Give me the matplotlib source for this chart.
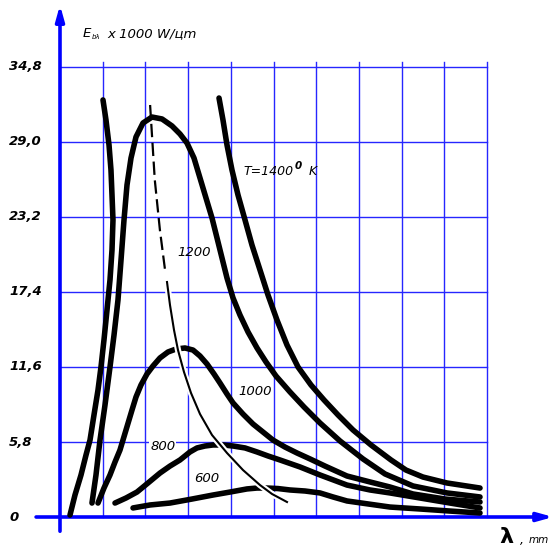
import matplotlib
matplotlib.use('Agg')
import matplotlib.pyplot as plt
import matplotlib.patheffects as pe

plt.rcParams['font.family'] = ['DejaVu Sans']

# ---------------- data ----------------
y_ticks = [0, 5.8, 11.6, 17.4, 23.2, 29.0, 34.8]
y_tick_labels = ['0', '5,8', '11,6', '17,4', '23,2', '29,0', '34,8']
x_grid = [1, 2, 3, 4, 5, 6, 7, 8, 9, 10]

t1400_left_x = [0.234, 0.351, 0.492, 0.609, 0.703, 0.796, 0.890, 0.960, 1.030, 1.101,
                1.171, 1.218, 1.241, 1.218, 1.194, 1.148, 1.077, 1.007]
t1400_left_y = [0.15, 1.70, 3.25, 4.79, 5.95, 7.89, 9.82, 11.60, 13.69, 16.01,
                18.33, 20.65, 22.97, 24.90, 26.83, 28.77, 30.70, 32.25]

t1400_right_x = [3.724, 3.817, 3.911, 4.028, 4.169, 4.333, 4.496, 4.684, 4.871, 5.082,
                 5.316, 5.574, 5.878, 6.183, 6.511, 6.862, 7.283, 7.752, 8.103, 8.501,
                 9.063, 9.836]
t1400_right_y = [32.40, 30.70, 28.77, 26.83, 24.90, 22.97, 21.03, 19.10, 17.17, 15.23,
                 13.30, 11.60, 10.21, 9.05, 7.89, 6.73, 5.57, 4.41, 3.63, 3.09,
                 2.63, 2.24]

t1200_x = [0.749, 0.843, 0.937, 1.054, 1.171, 1.265, 1.358, 1.429, 1.499, 1.569,
           1.663, 1.780, 1.944, 2.155, 2.389, 2.623, 2.810, 2.974, 3.138, 3.279,
           3.419, 3.560, 3.677, 3.794, 3.911, 4.052, 4.215, 4.403, 4.614, 4.824,
           5.059, 5.386, 5.714, 6.089, 6.557, 7.096, 7.611, 8.267, 9.063, 9.836]
t1200_y = [1.08, 3.25, 5.95, 8.66, 11.60, 14.07, 16.78, 19.87, 22.97, 25.67,
           27.76, 29.39, 30.47, 30.93, 30.78, 30.24, 29.62, 28.92, 27.76, 26.21,
           24.67, 23.12, 21.58, 20.03, 18.48, 16.94, 15.62, 14.31, 13.07, 11.99,
           10.90, 9.67, 8.51, 7.27, 5.88, 4.49, 3.33, 2.40, 1.86, 1.55]

t1000_x = [0.890, 1.030, 1.171, 1.288, 1.405, 1.546, 1.686, 1.780, 1.897, 2.037,
           2.178, 2.342, 2.529, 2.717, 2.927, 3.115, 3.279, 3.443, 3.607, 3.747,
           3.911, 4.052, 4.286, 4.520, 4.754, 4.988, 5.269, 5.550, 5.855, 6.206,
           6.721, 7.260, 7.728, 8.267, 9.016, 9.836]
t1000_y = [1.08, 2.24, 3.25, 4.25, 5.18, 6.73, 8.27, 9.28, 10.21, 11.06,
           11.68, 12.30, 12.76, 12.99, 13.07, 12.91, 12.45, 11.83, 11.06, 10.36,
           9.51, 8.82, 7.96, 7.19, 6.57, 5.95, 5.41, 4.95, 4.49, 3.94,
           3.17, 2.71, 2.32, 1.78, 1.39, 1.16]

t800_x = [1.288, 1.546, 1.803, 2.061, 2.342, 2.576, 2.810, 3.044, 3.208, 3.396,
          3.583, 3.817, 4.052, 4.333, 4.614, 4.871, 5.152, 5.621, 6.089, 6.721,
          7.260, 7.728, 8.431, 9.133, 9.836]
t800_y = [1.08, 1.47, 1.93, 2.63, 3.40, 3.94, 4.41, 5.03, 5.34, 5.49,
          5.57, 5.57, 5.49, 5.34, 5.03, 4.72, 4.41, 3.87, 3.25, 2.47,
          2.09, 1.86, 1.47, 1.08, 0.70]

t600_x = [1.710, 2.108, 2.576, 3.091, 3.583, 3.981, 4.379, 4.614, 4.848, 5.105,
          5.386, 5.738, 6.089, 6.393, 6.721, 7.213, 7.728, 8.431, 9.133, 9.836]
t600_y = [0.70, 0.93, 1.08, 1.39, 1.70, 1.93, 2.17, 2.24, 2.24, 2.20,
          2.09, 2.01, 1.86, 1.55, 1.24, 1.01, 0.77, 0.62, 0.46, 0.31]

locus_dash_x = [2.11, 2.22, 2.34, 2.46]
locus_dash_y = [31.86, 26.06, 22.19, 19.10]
locus_solid_x = [2.506, 2.576, 2.670, 2.763, 2.904, 3.068, 3.279, 3.560, 3.911, 4.286,
                 4.684, 4.965, 5.316]
locus_solid_y = [18.17, 16.39, 14.46, 12.91, 11.21, 9.59, 7.96, 6.34, 4.95, 3.63,
                 2.47, 1.78, 1.16]

curve_labels = ['T=1400', '1200', '1000', '800', '600']
label_x = [4.29, 2.74, 4.17, 2.11, 3.14]
label_y = [26.68, 20.42, 9.74, 5.49, 2.94]

# ---------------- figure ----------------
fig = plt.figure(figsize=(5.57, 5.51), dpi=100)
ax = fig.add_axes([0, 0, 1, 1])
ax.set_xlim(-1.405, 11.639)
ax.set_ylim(-2.629, 39.98)
ax.axis('off')

grid_c = '#2626ff'
for xg in x_grid:
    ax.plot([xg, xg], [0, 35.2], color=grid_c, lw=1.0, zorder=1)
for yt in y_ticks[1:]:
    ax.plot([0, 10], [yt, yt], color=grid_c, lw=1.0, zorder=1)

axis_c = '#0000ff'
ax.annotate('', xy=(0, 39.6), xytext=(0, -1.1),
            arrowprops=dict(arrowstyle='-|>,head_length=0.9,head_width=0.25',
                            color=axis_c, lw=2.6, shrinkA=0, shrinkB=0), zorder=2)
ax.annotate('', xy=(11.55, 0), xytext=(-0.56, 0),
            arrowprops=dict(arrowstyle='-|>,head_length=0.9,head_width=0.25',
                            color=axis_c, lw=2.6, shrinkA=0, shrinkB=0), zorder=2)

kw = dict(color='black', lw=4.0, solid_capstyle='round', solid_joinstyle='round', zorder=3)
ax.plot(t1400_left_x, t1400_left_y, **kw)
ax.plot(t1400_right_x, t1400_right_y, **kw)
ax.plot(t1200_x, t1200_y, **kw)
ax.plot(t1000_x, t1000_y, **kw)
ax.plot(t800_x, t800_y, **kw)
ax.plot(t600_x, t600_y, **kw)

ax.plot(locus_dash_x, locus_dash_y, color='black', lw=1.6, linestyle=(0, (6, 2.5)),
        zorder=4)
ax.plot(locus_solid_x, locus_solid_y, color='black', lw=1.5, zorder=4,
        solid_joinstyle='round',
        path_effects=[pe.Stroke(linewidth=4.5, foreground='white'), pe.Normal()])

# y tick labels
for yt, lab in zip(y_ticks, y_tick_labels):
    ax.text(-1.19, yt, lab, ha='left', va='center', fontsize=9.5,
            fontweight='bold', style='italic', zorder=5)

# curve labels
for lab, lx, ly in zip(curve_labels, label_x, label_y):
    bbox = None
    if lab == '800':
        bbox = dict(facecolor='white', edgecolor='none', pad=0.5)
    fs = 9.0 if lab.startswith('T') else 9.5
    ax.text(lx, ly, lab, ha='left', va='center', fontsize=fs, style='italic',
            zorder=5, bbox=bbox)
ax.text(5.50, 27.15, '0', ha='left', va='center', fontsize=7.5, style='italic',
        fontweight='bold', zorder=5)
ax.text(5.83, 26.68, 'K', ha='left', va='center', fontsize=9.0, style='italic', zorder=5)

# y-axis title
ax.text(0.54, 37.4, 'E', ha='left', va='center', fontsize=9.5, style='italic')
ax.text(0.74, 37.1, 'bλ', ha='left', va='center', fontsize=5, style='italic')
ax.text(1.10, 37.4, 'x 1000 W/цm', ha='left', va='center', fontsize=9.5, style='italic')

# x-axis title
ax.text(10.45, -1.55, 'λ', ha='center', va='center', fontsize=16, fontweight='bold')
ax.text(10.77, -1.8, ',', ha='left', va='center', fontsize=9, style='italic')
ax.text(10.98, -1.75, 'mm', ha='left', va='center', fontsize=7.5, style='italic')

fig.savefig('out.png', dpi=100)
